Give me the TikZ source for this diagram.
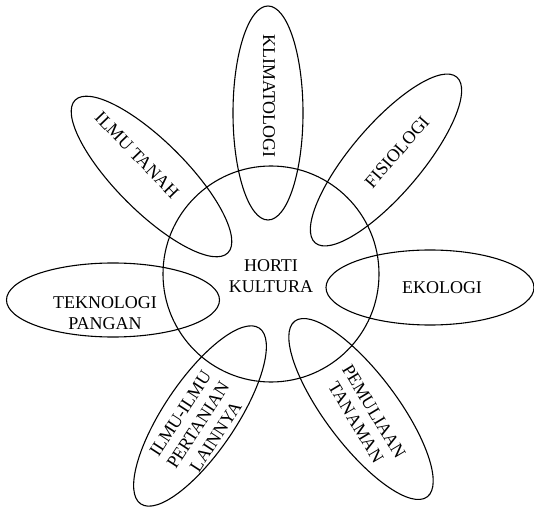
\documentclass[tikz,border=0pt]{standalone}
\usepackage{fontspec}
\setmainfont{Liberation Serif}
\begin{document}
\begin{tikzpicture}[x=1pt,y=1pt,line width=1.1pt,
  lbl/.style={align=center,inner sep=0pt,font=\fontsize{18}{21}\selectfont}]
\useasboundingbox (0,0) rectangle (534,511);
\draw (271,237) circle (108pt);
\draw[shift={(268,398)},rotate=90] (0,0) ellipse (107pt and 35pt);
\draw[shift={(386,351)},rotate=49.5] (0,0) ellipse (109pt and 35pt);
\draw (430,223.5) ellipse (104pt and 37.5pt);
\draw[shift={(361,102)},rotate=-53] (0,0) ellipse (110pt and 36pt);
\draw[shift={(200,95)},rotate=56] (0,0) ellipse (106pt and 36pt);
\draw (113,211) ellipse (106.5pt and 37pt);
\draw[shift={(151.5,334.5)},rotate=-45] (0,0) ellipse (108pt and 35pt);
\node[lbl] (horti) at (271,235) {HORTI\\KULTURA};
\node[lbl,rotate=-90] (klim) at (269,415) {KLIMATOLOGI};
\node[lbl,rotate=49] (fisio) at (397,359) {FISIOLOGI};
\node[lbl] (eko) at (442,223) {EKOLOGI};
\node[lbl,rotate=-59] (pemul) at (365,94) {PEMULIAAN\\TANAMAN};
\node[lbl,rotate=57] (lain) at (198,86) {ILMU-ILMU\\PERTANIAN\\LAINNYA};
\node[lbl] (tekno) at (105,198) {TEKNOLOGI\\PANGAN};
\node[lbl,rotate=-46] (tanah) at (137,356) {ILMU TANAH};
\end{tikzpicture}
\end{document}
